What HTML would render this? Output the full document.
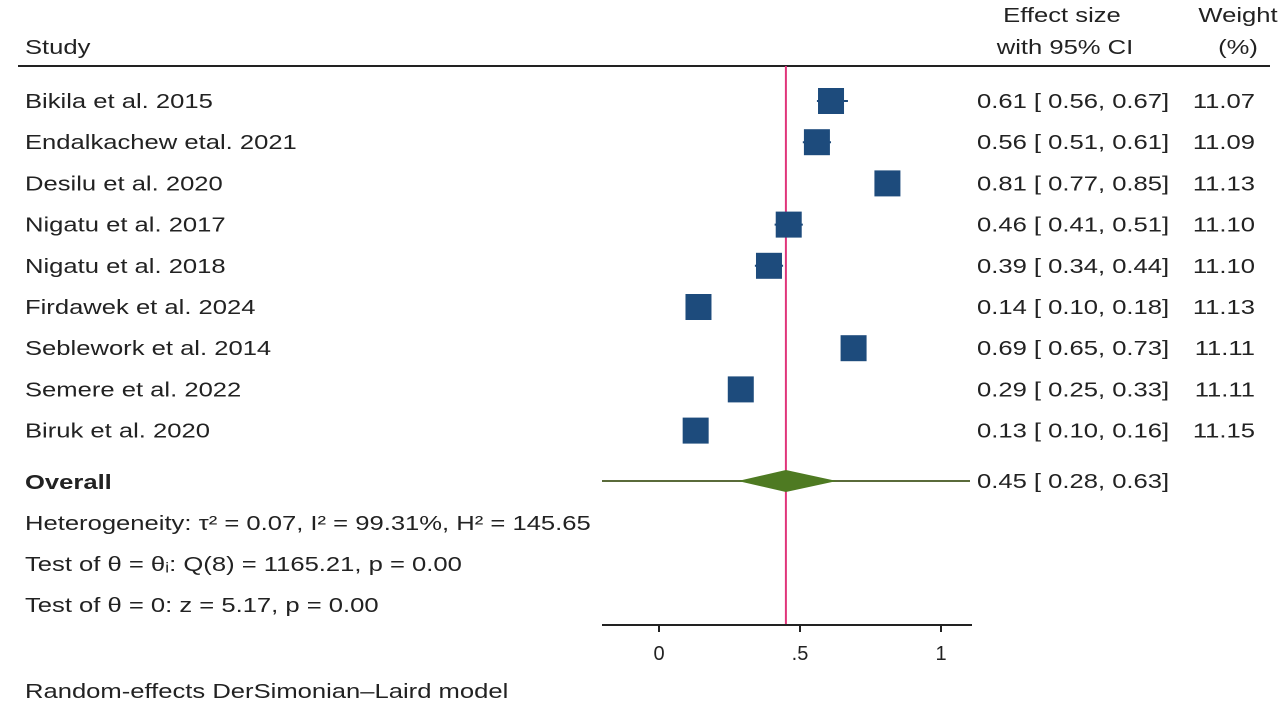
<!DOCTYPE html>
<html><head><meta charset="utf-8"><style>
body{margin:0;background:#fff;width:1280px;height:714px;overflow:hidden;font-family:"Liberation Sans",sans-serif;}
svg text{font-family:"Liberation Sans",sans-serif;font-size:20px;fill:#222;}
</style></head><body>
<svg id="plot" width="1280" height="714">
<text class="sx" x="25" y="54">Study</text>
<text class="sx" x="1062" y="22" text-anchor="middle">Effect size</text>
<text class="sx" x="1065" y="54" text-anchor="middle">with 95% CI</text>
<text class="sx" x="1238" y="22" text-anchor="middle">Weight</text>
<text class="sx" x="1238" y="54" text-anchor="middle">(%)</text>
<line x1="18" x2="1270" y1="66" y2="66" stroke="#222" stroke-width="2"/>
<text class="sx" x="25" y="489" font-weight="bold">Overall</text>
<text class="sx" x="25" y="530">Heterogeneity: τ² = 0.07, I² = 99.31%, H² = 145.65</text>
<text class="sx" x="25" y="571">Test of θ = θᵢ: Q(8) = 1165.21, p = 0.00</text>
<text class="sx" x="25" y="612">Test of θ = 0: z = 5.17, p = 0.00</text>
<text class="sx" x="25" y="698">Random-effects DerSimonian–Laird model</text>
</svg>
<script>
const studies=["Bikila et al. 2015","Endalkachew etal. 2021","Desilu et al. 2020","Nigatu et al. 2017","Nigatu et al.  2018","Firdawek et al. 2024","Seblework et al. 2014","Semere et al. 2022","Biruk et al.  2020"];
const est=[0.61,0.56,0.81,0.46,0.39,0.14,0.69,0.29,0.13];
const lo=[0.56,0.51,0.77,0.41,0.34,0.10,0.65,0.25,0.10];
const hi=[0.67,0.61,0.85,0.51,0.44,0.18,0.73,0.33,0.16];
const weights=["11.07","11.09","11.13","11.10","11.10","11.13","11.11","11.11","11.15"];
const overall=[0.45,0.28,0.63];
const ticks=[0,0.5,1];
const tickLabels=["0",".5","1"];
const NS="http://www.w3.org/2000/svg";
const svg=document.getElementById('plot');
const SX=1.28;
const X=v=>659+v*282;
const Y=i=>101+i*41.2;
function mk(t,a){const e=document.createElementNS(NS,t);for(const k in a)e.setAttribute(k,a[k]);svg.appendChild(e);return e;}
function stretch(e){const x=+e.getAttribute('x');e.setAttribute('transform',`translate(${x},0) scale(${SX},1) translate(${-x},0)`);}
document.querySelectorAll('.sx').forEach(stretch);
const f=v=>v.toFixed(2);
let rl=mk('line',{x1:X(overall[0]),x2:X(overall[0]),y1:66,y2:625,stroke:'#e0357a','stroke-width':2});


studies.forEach((s,i)=>{
 const y=Y(i);
 let t=mk('text',{x:25,y:y+7});t.textContent=s;stretch(t);
 
 
 let ci=mk('line',{x1:X(lo[i]),x2:X(hi[i]),y1:y,y2:y,stroke:'#1e4a7a','stroke-width':2});
 
 
 let r=mk('rect',{x:X(est[i])-13,y:y-13,width:26,height:26,fill:'#1d4b7c'});
 
 
 let e=mk('text',{x:977,y:y+7});e.textContent=f(est[i])+" [ "+f(lo[i])+",  "+f(hi[i])+"]";stretch(e);
 
 
 let w=mk('text',{x:1255,y:y+7,'text-anchor':'end'});w.textContent=weights[i];stretch(w);
 
 
});
const oy=481;
let ol=mk('line',{x1:602,x2:970,y1:oy,y2:oy,stroke:'#5a6b3a','stroke-width':2});


let d=mk('polygon',{points:`${X(overall[1])},${oy} ${X(overall[0])},${oy-11} ${X(overall[2])},${oy} ${X(overall[0])},${oy+11}`,fill:'#4e7a22'});


let ot=mk('text',{x:977,y:oy+7});ot.textContent=f(overall[0])+" [ "+f(overall[1])+",  "+f(overall[2])+"]";stretch(ot);


let ax=mk('line',{x1:602,x2:972,y1:625,y2:625,stroke:'#222','stroke-width':2});


ticks.forEach((v,i)=>{
 let tk=mk('line',{x1:X(v),x2:X(v),y1:625,y2:632,stroke:'#222','stroke-width':2});
 
 
 let tl=mk('text',{x:X(v),y:660,'text-anchor':'middle'});tl.textContent=tickLabels[i];
 
 
});
</script>
</body></html>
